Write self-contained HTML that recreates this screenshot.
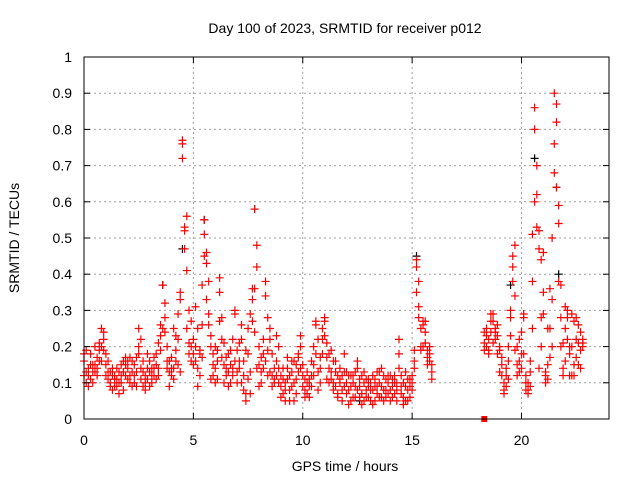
<!DOCTYPE html>
<html><head><meta charset="utf-8"><style>
body{margin:0;background:#fff}
svg{display:block;font-family:"Liberation Sans",sans-serif}
</style></head><body>
<svg id="chart" width="640" height="480" viewBox="0 0 640 480">
<rect width="640" height="480" fill="#fff"/>
<g id="grid"></g><g id="marks"></g><g id="axes"></g>
<text x="345" y="33" text-anchor="middle" font-size="14">Day 100 of 2023, SRMTID for receiver p012</text>
<text x="345" y="471" text-anchor="middle" font-size="14">GPS time / hours</text>
<text transform="translate(19,238) rotate(-90)" text-anchor="middle" font-size="14">SRMTID / TECUs</text>
</svg>
<script>
const xTicks=[0,5,10,15,20];
const yTicks=[0,0.1,0.2,0.3,0.4,0.5,0.6,0.7,0.8,0.9,1];
const yTickLabels=["0","0.1","0.2","0.3","0.4","0.5","0.6","0.7","0.8","0.9","1"];
const hoursA=[0,0.1,0.2,0.3,0.4,0.5,0.6,0.7,0.8,0.9,1,1.1,1.2,1.3,1.4,1.5,1.6,1.7,1.8,1.9,2,2.1,2.2,2.3,2.4,2.5,2.6,2.7,2.8,2.9,3,3.1,3.2,3.3,3.4,3.5,3.6,3.7,3.8,3.9,4,4.1,4.2,4.3,4.4,4.5,4.6,4.7,4.8,4.9,5,5.1,5.2,5.3,5.4,5.5,5.6,5.7,5.8,5.9,6,6.1,6.2,6.3,6.4,6.5,6.6,6.7,6.8,6.9,7,7.1,7.2,7.3,7.4,7.5,7.6,7.7,7.8,7.9,8,8.1,8.2,8.3,8.4,8.5,8.6,8.7,8.8,8.9,9,9.1,9.2,9.3,9.4,9.5,9.6,9.7,9.8,9.9,10,10.1,10.2,10.3,10.4,10.5,10.6,10.7,10.8,10.9,11,11.1,11.2,11.3,11.4,11.5,11.6,11.7,11.8,11.9,12,12.1,12.2,12.3,12.4,12.5,12.6,12.7,12.8,12.9,13,13.1,13.2,13.3,13.4,13.5,13.6,13.7,13.8,13.9,14,14.1,14.2,14.3,14.4,14.5,14.6,14.7,14.8,14.9,15,15.1,15.2,15.3,15.4,15.5,15.6,15.7,15.8,15.9,
18.3,18.4,18.5,18.6,18.7,18.8,18.9,19,19.1,19.2,19.3,19.4,19.5,19.6,19.7,19.8,19.9,20,20.1,20.2,20.3,20.4,20.5,20.6,20.7,20.8,20.9,21,21.1,21.2,21.3,21.4,21.5,21.6,21.7,21.8,21.9,22,22.1,22.2,22.3,22.4,22.5,22.6,22.7,22.8];
const valsA=[.12,.10,.14,.11,.13,.15,.17,.19,.20,.22, .18,.13,.10,.12,.09,.11,.10,.12,.13,.15, .14,.12,.16,.10,.13,.18,.11,.09,.12,.14, .13,.10,.12,.15,.14,.19,.37,.24,.16,.13, .17,.14,.19,.22,.13,.77,.53,.25,.18,.20, .18,.31,.14,.12,.26,.55,.46,.29,.20,.15, .14,.19,.35,.22,.15,.12,.18,.10,.14,.30, .19,.14,.22,.12,.07,.25,.13,.36,.58,.48, .20,.17,.14,.38,.19,.22,.12,.11,.16,.14, .12,.07,.10,.14,.08,.13,.16,.11,.18,.20, .12,.08,.10,.06,.12,.15,.26,.22,.14,.18, .27,.21,.14,.11,.16,.09,.12,.10,.08,.18, .10,.08,.12,.06,.09,.14,.11,.07,.10,.08, .09,.05,.08,.11,.07,.10,.06,.12,.08,.10, .08,.11,.07,.10,.22,.12,.06,.09,.08,.11, .12,.16,.44,.38,.20,.26,.27,.19,.16,.13,
.24,.20,.22,.27,.29,.25,.23,.19,.12,.08, .12,.16,.28,.38,.48,.20,.13,.18,.28,.10, .08,.13,.38,.86,.62,.52,.28,.35,.12,.11, .36,.20,.90,.87,.38,.20,.12,.25,.30,.18, .29,.15,.22,.26,.19,.21];
const valsB=[.16,.19,.09,.15,.10,.13,.12,.21,.16,.24, .15,.11,.13,.08,.12,.14,.07,.10,.16,.12, .16,.10,.13,.15,.09,.25,.22,.13,.08,.11, .09,.14,.17,.11,.21,.26,.25,.32,.20,.09, .12,.25,.16,.15,.35,.72,.47,.41,.30,.16, .22,.16,.09,.18,.37,.51,.43,.38,.23,.12, .20,.11,.39,.28,.10,.17,.13,.15,.22,.29, .13,.21,.10,.16,.05,.18,.29,.33,.36,.42, .15,.10,.22,.34,.28,.13,.18,.10,.12,.20, .06,.11,.05,.17,.12,.09,.05,.15,.13,.23, .09,.11,.07,.09,.16,.20,.27,.13,.10,.25, .23,.17,.10,.19,.08,.13,.07,.14,.12,.09, .07,.12,.05,.10,.13,.08,.06,.12,.05,.11, .06,.10,.12,.05,.09,.13,.09,.05,.11,.07, .05,.09,.12,.05,.18,.07,.10,.05,.11,.06, .08,.14,.35,.28,.25,.20,.24,.15,.18,.11,
.19,.25,.18,.24,.27,.22,.26,.20,.15,.10, .09,.20,.23,.45,.34,.15,.16,.24,.29,.08, .10,.09,.25,.80,.70,.47,.20,.46,.13,.25, .25,.33,.76,.82,.59,.28,.14,.31,.22,.12, .20,.12,.28,.15,.24,.20];
const valsC=[.18,.13,.12,.18,.15,.20,.14,.16,.25,.19, .12,.16,.09,.14,.11,.09,.13,.15,.08,.17, .11,.17,.09,.12,.17,.20,.14,.16,.10,.18, .16,.12,.14,.18,.12,.23,.37,.28,.14,.16, .14,.11,.23,.29,.33,.76,.52,.56,.21,.27, .15,.20,.25,.19,.17,.45,.33,.26,.11,.18, .10,.16,.27,.17,.21,.14,.09,.19,.12,.16, .10,.16,.26,.08,.19,.11,.07,.27,.24,.14, .09,.13,.18,.16,.12,.25,.09,.14,.23,.10, .09,.14,.08,.11,.05,.16,.10,.07,.17,.14, .15,.06,.13,.11,.09,.12,.18,.08,.17,.22, .28,.11,.18,.13,.10,.16,.06,.11,.05,.13, .13,.04,.09,.12,.06,.16,.09,.04,.13,.06, .11,.08,.04,.09,.13,.06,.14,.08,.06,.12, .12,.06,.10,.08,.14,.09,.04,.13,.05,.09, .10,.19,.42,.31,.19,.27,.21,.17,.20,.15,
.21,.23,.19,.29,.21,.24,.18,.13,.17,.07, .14,.11,.30,.42,.19,.12,.22,.14,.18,.12, .07,.16,.51,.60,.53,.14,.44,.29,.10,.15, .17,.50,.68,.64,.54,.37,.21,.16,.28,.20, .12,.27,.17,.21,.14,.22];
const blackHours=[4.5,5.5,7.8,15.2,19.5,20.6,21.6,21.7,12.6,3.6];
const blackVals=[.47,.55,.58,.45,.37,.72,.64,.40,.05,.37];
const zeroHours=[18.3];
const zeroVals=[0];

const L=84,R=609,T=57,B=419,XMAX=24;
const xs=h=>L+h/XMAX*(R-L);
const ys=v=>B-v*(B-T);
const NS="http://www.w3.org/2000/svg";
function mk(tag,attrs,parent){const e=document.createElementNS(NS,tag);for(const k in attrs)e.setAttribute(k,attrs[k]);parent.appendChild(e);return e;}
const grid=document.getElementById('grid'),marks=document.getElementById('marks'),axes=document.getElementById('axes');
yTicks.forEach((v,i)=>{
  const y=ys(v);
  if(i>0&&i<yTicks.length-1){const g=mk('line',{x1:L,x2:R,y1:y,y2:y,stroke:'#a0a0a0','stroke-dasharray':'2,3','stroke-width':1},grid);
  
  }
  mk('line',{x1:L,x2:L+6,y1:y,y2:y,stroke:'#000'},axes);
  mk('line',{x1:R,x2:R-6,y1:y,y2:y,stroke:'#000'},axes);
  const t=mk('text',{x:L-12,y:y+5,'text-anchor':'end','font-size':14},axes);t.textContent=yTickLabels[i];
  
  
});
xTicks.forEach(v=>{
  const x=xs(v);
  if(v>0){const g=mk('line',{x1:x,x2:x,y1:T,y2:B,stroke:'#a0a0a0','stroke-dasharray':'2,3'},grid);
  
  }
  mk('line',{x1:x,x2:x,y1:B,y2:B-6,stroke:'#000'},axes);
  mk('line',{x1:x,x2:x,y1:T,y2:T+6,stroke:'#000'},axes);
  const t=mk('text',{x:x,y:B+26,'text-anchor':'middle','font-size':14},axes);t.textContent=String(v);
  
  
});
const frame=mk('rect',{x:L,y:T,width:R-L,height:B-T,fill:'none',stroke:'#000'},axes);


function plus(h,v,color){
  const x=xs(h),y=ys(v);
  const p=mk('path',{d:`M${x-4},${y}H${x+4}M${x},${y-4}V${y+4}`,stroke:color,'stroke-width':1.2,fill:'none'},marks);
  
  
}
blackHours.forEach((h,i)=>plus(h,blackVals[i],'#000'));
[valsA,valsB,valsC].forEach(arr=>hoursA.forEach((h,i)=>{if(arr[i]!=null)plus(h,arr[i],'#f00');}));
zeroHours.forEach((h,i)=>{
  const r=mk('rect',{x:xs(h)-3,y:ys(zeroVals[i])-3,width:6,height:6,fill:'#f00'},marks);
  
  
});
</script>
</body></html>
